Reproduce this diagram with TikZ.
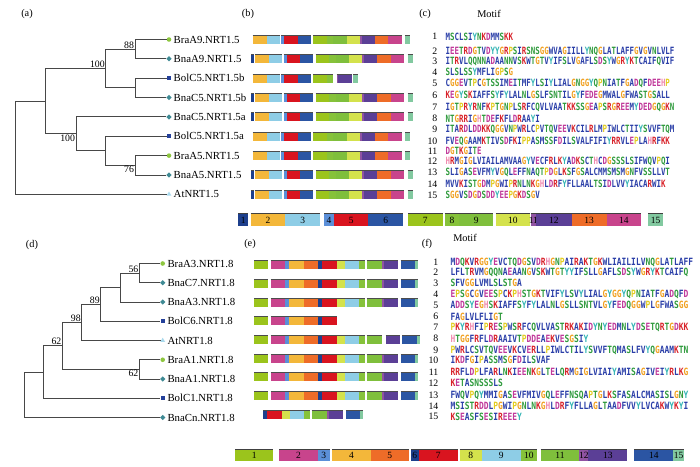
\documentclass[tikz,border=0pt]{standalone}
\usepackage{fontspec}
\setmainfont{Liberation Serif}
\newfontfamily\seqc[FakeStretch=0.745]{DejaVu Sans Mono}
\newfontfamily\seqf[FakeStretch=0.79]{DejaVu Sans Mono}
\usetikzlibrary{shapes.geometric}

% motif colours of the gene bars
\definecolor{bm1}{HTML}{1D3F8C}
\definecolor{bm2}{HTML}{F3B73A}
\definecolor{bm3}{HTML}{8ECDE6}
\definecolor{bm4}{HTML}{5B8FD8}
\definecolor{bm5}{HTML}{D9141F}
\definecolor{bm6}{HTML}{2B55A3}
\definecolor{bm7}{HTML}{9BC41C}
\definecolor{bm8}{HTML}{86C23A}
\definecolor{bm9}{HTML}{7FBF3C}
\definecolor{bm10}{HTML}{D4E24C}
\definecolor{bm11}{HTML}{9053A2}
\definecolor{bm12}{HTML}{5B3F96}
\definecolor{bm13}{HTML}{EE6C28}
\definecolor{bm14}{HTML}{C8448C}
\definecolor{bm15}{HTML}{82C9A0}
\colorlet{em1}{bm7}
\colorlet{em2}{bm14}
\colorlet{em3}{bm4}
\colorlet{em4}{bm2}
\colorlet{em5}{bm13}
\colorlet{em6}{bm1}
\colorlet{em7}{bm5}
\colorlet{em8}{bm10}
\colorlet{em9}{bm3}
\colorlet{em10}{bm8}
\colorlet{em11}{bm9}
\colorlet{em12}{bm11}
\colorlet{em13}{bm12}
\colorlet{em14}{bm6}
\colorlet{em15}{bm15}
\definecolor{brag}{HTML}{8DC63F}
\definecolor{bnat}{HTML}{3F8A94}
\definecolor{bolb}{HTML}{24409A}
\definecolor{atb}{HTML}{A9D9EC}

% residue colours
\definecolor{aahyd}{HTML}{2B3FA8}
\definecolor{aapol}{HTML}{2E9A3C}
\definecolor{aaacid}{HTML}{C0399A}
\definecolor{aabase}{HTML}{D8232A}
\definecolor{aahis}{HTML}{F08CB0}
\definecolor{aagly}{HTML}{F0A020}
\definecolor{aapro}{HTML}{E2CC1E}
\definecolor{aatyr}{HTML}{32B4B4}
\colorlet{aaA}{aahyd}\colorlet{aaC}{aahyd}\colorlet{aaF}{aahyd}
\colorlet{aaI}{aahyd}\colorlet{aaL}{aahyd}\colorlet{aaM}{aahyd}
\colorlet{aaV}{aahyd}\colorlet{aaW}{aahyd}
\colorlet{aaN}{aapol}\colorlet{aaQ}{aapol}\colorlet{aaS}{aapol}\colorlet{aaT}{aapol}
\colorlet{aaD}{aaacid}\colorlet{aaE}{aaacid}
\colorlet{aaK}{aabase}\colorlet{aaR}{aabase}
\colorlet{aaH}{aahis}\colorlet{aaG}{aagly}\colorlet{aaP}{aapro}\colorlet{aaY}{aatyr}

\def\motseq#1{\edef\seqtmp{#1}\expandafter\motloop\seqtmp\relax}
\def\motloop#1{\ifx\relax#1\else\textcolor{aa#1}{#1}\expandafter\motloop\fi}

% motif start / end, relative to the gene start
\def\bS{{0,0,4,18.3,32.5,35.7,49,64.5,78.3,84.7,98,111.3,113,126.3,139.7,156.7}}
\def\bE{{0,3.3,18.3,31,35.7,49,62.3,78.3,84.7,98,111.3,113,126.3,139.7,153.3,161.7}}
\def\eS{{0,0,16.7,31,35.3,50,64.3,67.7,82.7,91,105.3,112.7,127.7,130,146.7,161}}
\def\eE{{0,14.3,31,35.3,50,64.3,67.7,82.7,91,105.3,111,127.7,130,144.3,161,164.3}}

\newcommand\genebar[6]{%
  \foreach \m in {#6}{%
    \pgfmathsetmacro\xa{#1[\m]+#4}%
    \pgfmathsetmacro\xb{#2[\m]+#4}%
    \fill[#3\m] (\xa,#5-4.3) rectangle (\xb,#5+4.3);
    \draw[bartop] (\xa,#5-4.3) -- (\xb,#5-4.3);
  }}

\begin{document}
\begin{tikzpicture}[x=1pt,y=-1pt]

  % style of the trees and labels
  \tikzstyle{branch}=[draw=black!72,line width=0.9pt]
  \tikzstyle{bramark}=[circle,fill=brag,minimum size=4.6pt,inner sep=0]
  \tikzstyle{bnamark}=[diamond,fill=bnat,minimum size=5.4pt,inner sep=0]
  \tikzstyle{bolmark}=[rectangle,fill=bolb,minimum size=4.4pt,inner sep=0]
  \tikzstyle{atmark}=[regular polygon,regular polygon sides=3,fill=atb,minimum size=5.6pt,inner sep=0]
  \tikzstyle{leaf}=[anchor=west,inner sep=0,font=\fontsize{10.8}{12}\selectfont]
  \tikzstyle{boot}=[inner sep=0.8pt,font=\fontsize{9.8}{10}\selectfont]
  \tikzstyle{panel}=[font=\fontsize{10.3}{12}\selectfont]
  \tikzstyle{bartop}=[draw=black!70,line width=0.7pt]
  \tikzstyle{legtop}=[draw=black!75,line width=1.2pt]
  \tikzstyle{legnum}=[inner sep=0,font=\fontsize{9.5}{10}\selectfont]
  \tikzstyle{motnum}=[anchor=east,inner sep=0,font=\fontsize{9.8}{10}\selectfont]
  \tikzstyle{seqtxt}=[anchor=west,inner sep=0]

  \useasboundingbox (0,0) rectangle (700,466);

  \node[panel] (pa) at (27,14) {(a)};
  \node[panel] (pb) at (248,14) {(b)};
  \node[panel] (pc) at (425,14) {(c)};
  \node[panel] (mc) at (489,14) {Motif};
  \node[panel] (pd) at (32,245) {(d)};
  \node[panel] (pe) at (250,244) {(e)};
  \node[panel] (pf) at (427,244) {(f)};
  \node[panel] (mf) at (465,238) {Motif};

  % tree (a)
  \coordinate (ra) at (15.7,101.2);
  \coordinate (na1) at (45.7,101.2);
  \coordinate (na2) at (105.7,68.5);
  \coordinate (na3) at (135,49.2);
  \coordinate (na4) at (135,87.9);
  \coordinate (na5) at (76,133.8);
  \coordinate (na6) at (105.7,150.8);
  \coordinate (na7) at (135,165.3);
  \foreach \i/\y/\k/\t in {1/39.5/bramark/BraA9.NRT1.5, 2/58.85/bnamark/BnaA9.NRT1.5,
      3/78.2/bolmark/BolC5.NRT1.5b, 4/97.55/bnamark/BnaC5.NRT1.5b,
      5/116.9/bnamark/BnaC5.NRT1.5a, 6/136.25/bolmark/BolC5.NRT1.5a,
      7/155.6/bramark/BraA5.NRT1.5, 8/174.95/bnamark/BnaA5.NRT1.5,
      9/194.3/atmark/AtNRT1.5}{
    \node[\k] (ka\i) at (169,\y) {};
    \node[leaf] (la\i) at (173.5,\y) {\t};
  }
  \foreach \a/\b in {ra/na1, ra/ka9.west, na1/na2, na1/na5, na2/na3, na2/na4,
      na3/ka1.west, na3/ka2.west, na4/ka3.west, na4/ka4.west, na5/ka5.west,
      na5/na6, na6/ka6.west, na6/na7, na7/ka7.west, na7/ka8.west}
    \draw[branch] (\a) |- (\b);
  \node[boot,anchor=south east] (ba3) at (na3) {88};
  \node[boot,anchor=south east] (ba2) at (na2) {100};
  \node[boot,anchor=north east] (ba5) at (na5) {100};
  \node[boot,anchor=north east] (ba7) at (na7) {76};

  % tree (d)
  \coordinate (rd) at (24,372.1);
  \coordinate (nd1) at (43.3,372.1);
  \coordinate (nd2) at (62.3,345.9);
  \coordinate (nd3) at (81.7,322.5);
  \coordinate (nd4) at (100.7,304.4);
  \coordinate (nd5) at (120.7,287.6);
  \coordinate (nd6) at (139.3,273.1);
  \coordinate (nd7) at (139.3,369.4);
  \foreach \i/\y/\k/\t in {1/263.5/bramark/BraA3.NRT1.8, 2/282.75/bnamark/BnaC7.NRT1.8,
      3/302/bnamark/BnaA3.NRT1.8, 4/321.25/bolmark/BolC6.NRT1.8,
      5/340.5/atmark/AtNRT1.8, 6/359.75/bramark/BraA1.NRT1.8,
      7/379/bnamark/BnaA1.NRT1.8, 8/398.25/bolmark/BolC1.NRT1.8,
      9/417.5/bnamark/BnaCn.NRT1.8}{
    \node[\k] (kd\i) at (162.7,\y) {};
    \node[leaf] (ld\i) at (167.3,\y) {\t};
  }
  \foreach \a/\b in {rd/nd1, rd/kd9.west, nd1/nd2, nd1/kd8.west, nd2/nd3, nd2/nd7,
      nd3/nd4, nd3/kd5.west, nd4/nd5, nd4/kd4.west, nd5/nd6, nd5/kd3.west,
      nd6/kd1.west, nd6/kd2.west, nd7/kd6.west, nd7/kd7.west}
    \draw[branch] (\a) |- (\b);
  \node[boot,anchor=south east] (bd2) at (nd2) {62};
  \node[boot,anchor=south east] (bd3) at (nd3) {98};
  \node[boot,anchor=south east] (bd4) at (nd4) {89};
  \node[boot,anchor=south east] (bd6) at (nd6) {56};
  \node[boot,anchor=north east] (bd7) at (nd7) {62};

  % gene structures (b)
  \genebar{\bS}{\bE}{bm}{248.7}{39.5}{2,...,15}
  \genebar{\bS}{\bE}{bm}{251}{58.85}{1,...,15}
  \genebar{\bS}{\bE}{bm}{248.7}{78.2}{2,...,8}
  \genebar{\bS}{\bE}{bm}{225.4}{78.2}{11,12}
  \genebar{\bS}{\bE}{bm}{196.6}{78.2}{15}
  \genebar{\bS}{\bE}{bm}{251}{97.55}{1,...,15}
  \genebar{\bS}{\bE}{bm}{251}{116.9}{1,...,15}
  \genebar{\bS}{\bE}{bm}{248.7}{136.25}{2,...,15}
  \genebar{\bS}{\bE}{bm}{248.7}{155.6}{2,...,15}
  \genebar{\bS}{\bE}{bm}{251}{174.95}{1,...,15}
  \genebar{\bS}{\bE}{bm}{251}{194.3}{1,...,15}

  % gene structures (e)
  \genebar{\eS}{\eE}{em}{254}{265}{1,...,15}
  \genebar{\eS}{\eE}{em}{254}{283.66}{1,...,15}
  \genebar{\eS}{\eE}{em}{254}{302.32}{1,...,15}
  \genebar{\eS}{\eE}{em}{254}{320.98}{1,...,7}
  \genebar{\eS}{\eE}{em}{254}{339.64}{1,...,11}
  \genebar{\eS}{\eE}{em}{255.7}{339.64}{13,14,15}
  \genebar{\eS}{\eE}{em}{254}{358.3}{1,...,15}
  \genebar{\eS}{\eE}{em}{254}{376.96}{1,...,15}
  \genebar{\eS}{\eE}{em}{254}{395.62}{1,...,15}
  \genebar{\eS}{\eE}{em}{199}{414.28}{6,...,15}

  % motif legends
  \foreach \m/\a/\b in {1/238/248.3, 2/250.7/285.3, 3/285.3/320, 4/324/334,
      5/334/368.3, 6/368.3/403.3, 7/408/442.7, 8/444.7/459.3, 9/459.3/493.3,
      10/495.7/530, 11/530.7/536, 12/536/571.7, 13/571.7/606.7, 14/606.7/641,
      15/648.3/662.7}{
    \fill[bm\m] (\a,213.3) rectangle (\b,226);
    \draw[legtop] (\a,213.3) -- (\b,213.3);
    \node[legnum] (lgb\m) at ({(\a+\b)/2},220.3) {\m};
  }
  \foreach \m/\a/\b in {1/235/273.3, 2/279.3/317.7, 3/317.7/330, 4/332.3/370.7,
      5/370.7/409, 6/411/418.7, 7/418.7/457.7, 8/459.7/481.7, 9/481.7/521,
      10/521/536.7, 11/540.7/579.3, 12/579.3/588.3, 13/588.3/627.3,
      14/634.3/673.3, 15/673.3/684}{
    \fill[em\m] (\a,449.3) rectangle (\b,461.3);
    \draw[legtop] (\a,449.3) -- (\b,449.3);
    \node[legnum] (lge\m) at ({(\a+\b)/2},455.8) {\m};
  }

  % motif sequences (c)
  \foreach \i/\y/\s in {1/36.7/MSCLSIYNKDMMSKK,
      2/51/IEETRDGTVDYYGRPSIRSNSGGWVAGIILLYNQGLATLAFFGVGVNLVLF,
      3/61.7/ITRVLQQNNADAANNVSKWTGTVYIFSLVGAFLSDSYWGRYKTCAIFQVIF,
      4/72.3/SLSLSSYMFLIGPSG,
      5/83.7/CGGEVTPCGTSSIMEITMFYLSIYLIALGNGGYQPNIATFGADQFDEEHP,
      6/95/KEGYSKIAFFSYFYLALNLGSLFSNTILGYFEDEGMWALGFWASTGSALL,
      7/107.3/IGTPRYRNFKPTGNPLSRFCQVLVAATKKSSGEAPSRGREEMYDEDGQGKN,
      8/118.7/NTGRRIGHTDEFKFLDRAAYI,
      9/129.3/ITARDLDDKKQGGVNPWRLCPVTQVEEVKCILRLMPIWLCTIIYSVVFTQM,
      10/141/FVEQGAAMKTIVSDFKIPPASMSSFDILSVALFIFIYRRVLEPLAHRFKK,
      11/151/DGTKGITE,
      12/161/HRMGIGLVIAILAMVAAGYVECFRLKYADKSCTHCDGSSSLSIFWQVPQI,
      13/172.7/SLIGASEVFMYVGQLEFFNAQTPDGLKSFGSALCMMSMSMGNFVSSLLVT,
      14/184.3/MVVKISTGDMPGWIPRNLNKGHLDRFYFLLAALTSIDLVVYIACARWIK,
      15/195/SGGVSDGDSDDYEEPGKDSGV}{
    \node[motnum] (cn\i) at (437.5,\y) {\i};
    \node[seqtxt,font={\seqc\bfseries\fontsize{10}{10}\selectfont}] (cs\i) at (445.5,\y) {\motseq{\s}};
  }

  % motif sequences (f)
  \foreach \i/\y/\s in {1/262.3/MDQKVRGGYEVCTQDGSVDRHGNPAIRAKTGKWLIAILILVNQGLATLAFF,
      2/272.7/LFLTRVMGQQNAEAANGVSKWTGTYYIFSLLGAFLSDSYWGRYKTCAIFQ,
      3/283.3/SFVGGLVMLSLSTGA,
      4/294.3/EPSGCGVEESPCKPHSTGKTVIFYLSVYLIALGYGGYQPNIATFGADQFD,
      5/305.7/ADDSYEGHSKIAFFSYFYLALNLGSLLSNTVLGYFEDQGGWPLGFWASGG,
      6/316.7/FAGLVLFLIGT,
      7/327.7/PKYRHFIPRESPWSRFCQVLVASTRKAKIDYNYEDMNLYDSETQRTGDKK,
      8/338.7/HTGGFRFLDRAAIVTPDDEAEKVESGSIY,
      9/350/PWRLCSVTQVEEVKCVERLLPIWLCTILYSVVFTQMASLFVYQGAAMKTN,
      10/360/IKDFGIPASSMSGFDILSVAF,
      11/372/RRFLDPLFARLNKIEENKGLTELQRMGIGLVIAIYAMISAGIVEIYRLKG,
      12/383.3/KETASNSSSLS,
      13/395/FWQVPQYMMIGASEVFMIVGQLEFFNSQAPTGLKSFASALCMASISLGNY,
      14/406/MSISTRDDLPGWIPGNLNKGHLDRFYFLLAGLTAADFVVYLVCAKWYKYI,
      15/416.7/KSEASFSESIREEEY}{
    \node[motnum] (fn\i) at (438.5,\y) {\i};
    \node[seqtxt,font={\seqf\bfseries\fontsize{10}{10}\selectfont}] (fs\i) at (450.3,\y) {\motseq{\s}};
  }

\end{tikzpicture}
\end{document}
